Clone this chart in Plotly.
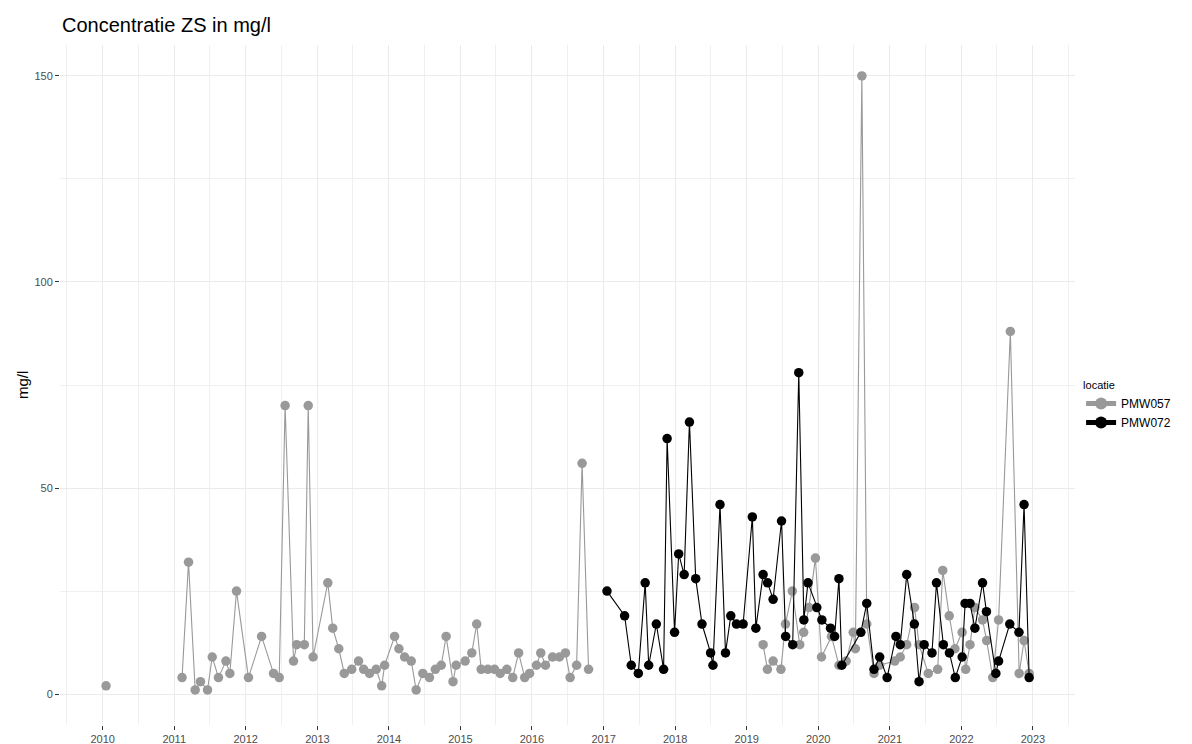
import plotly.graph_objects as go

# PMW057 (grey); None marks a gap in the measurement series (no connecting line)
pmw057_dates = [
    "2010-01-18", "2010-07-01", "2011-02-10", "2011-03-15", "2011-04-18", "2011-05-15", "2011-06-20",
    "2011-07-14", "2011-08-15", "2011-09-22", "2011-10-12", "2011-11-15", "2012-01-15",
    "2012-03-22", "2012-05-22", "2012-06-20", "2012-07-20", "2012-09-01", "2012-09-17",
    "2012-10-26", "2012-11-15", "2012-12-10", "2013-02-23", "2013-03-20", "2013-04-20",
    "2013-05-18", "2013-06-25", "2013-07-30", "2013-08-25", "2013-09-24", "2013-10-28",
    "2013-11-25", "2013-12-10", "2014-01-30", "2014-02-21", "2014-03-22", "2014-04-25",
    "2014-05-20", "2014-06-23", "2014-07-27", "2014-08-26", "2014-09-25", "2014-10-20",
    "2014-11-24", "2014-12-10", "2015-01-25", "2015-02-28", "2015-03-25", "2015-04-17",
    "2015-05-21", "2015-06-24", "2015-07-23", "2015-08-26", "2015-09-25", "2015-10-25",
    "2015-11-25", "2015-12-20", "2016-01-24", "2016-02-15", "2016-03-10", "2016-04-15",
    "2016-05-20", "2016-06-20", "2016-07-14", "2016-08-16", "2016-09-13", "2016-10-16",
    "2018-01-01",
    "2019-03-26", "2019-04-17", "2019-05-16", "2019-06-25", "2019-07-18", "2019-08-22",
    "2019-09-29", "2019-10-19", "2019-11-15", "2019-12-18", "2020-01-18", "2020-03-09",
    "2020-04-16", "2020-05-23", "2020-06-28", "2020-07-09", "2020-08-11", "2020-09-05",
    "2020-10-12", "2020-11-10", "2021-01-26", "2021-02-23", "2021-03-28", "2021-05-07",
    "2021-05-30", "2021-07-16", "2021-09-02", "2021-09-28", "2021-10-31", "2021-11-29",
    "2022-01-05", "2022-01-23", "2022-02-14", "2022-03-11", "2022-04-19", "2022-05-10",
    "2022-06-10", "2022-07-10", "2022-09-08", "2022-10-23", "2022-11-17", "2022-12-13",
]
pmw057_values = [
    2, None, 4, 32, 1, 3, 1,
    9, 4, 8, 5, 25, 4,
    14, 5, 4, 70, 8, 12,
    12, 70, 9, 27, 16, 11,
    5, 6, 8, 6, 5, 6,
    2, 7, 14, 11, 9, 8,
    1, 5, 4, 6, 7, 14,
    3, 7, 8, 10, 17, 6,
    6, 6, 5, 6, 4, 10,
    4, 5, 7, 10, 7, 9,
    9, 10, 4, 7, 56, 6,
    None,
    12, 6, 8, 6, 17, 25,
    12, 15, 21, 33, 9, 14,
    7, 8, 15, 11, 150, 17,
    5, 7, 8, 9, 12, 21,
    12, 5, 6, 30, 19, 11,
    15, 6, 12, 21, 18, 13,
    4, 18, 88, 5, 13, 5,
]

# PMW072 (black)
pmw072_dates = [
    "2017-01-18", "2017-04-18", "2017-05-22", "2017-06-27", "2017-08-01", "2017-08-19",
    "2017-09-27", "2017-11-03", "2017-11-21", "2017-12-29", "2018-01-19", "2018-02-16",
    "2018-03-15", "2018-04-16", "2018-05-18", "2018-07-01", "2018-07-13", "2018-08-18",
    "2018-09-15", "2018-10-12", "2018-11-10", "2018-12-14", "2019-01-30", "2019-02-17",
    "2019-03-26", "2019-04-18", "2019-05-16", "2019-06-28", "2019-07-19", "2019-08-24",
    "2019-09-24", "2019-10-20", "2019-11-10", "2019-12-25", "2020-01-20", "2020-03-04",
    "2020-03-25", "2020-04-16", "2020-05-01", "2020-08-06", "2020-09-05", "2020-10-12",
    "2020-11-10", "2020-12-18", "2021-02-01", "2021-02-23", "2021-03-28", "2021-05-06",
    "2021-05-30", "2021-06-25", "2021-08-04", "2021-08-27", "2021-10-01", "2021-11-01",
    "2021-12-01", "2022-01-05", "2022-01-20", "2022-02-14", "2022-03-11", "2022-04-19",
    "2022-05-09", "2022-06-26", "2022-07-10", "2022-09-05", "2022-10-22", "2022-11-17",
    "2022-12-13",
]
pmw072_values = [
    25, 19, 7, 5, 27, 7,
    17, 6, 62, 15, 34, 29,
    66, 28, 17, 10, 7, 46,
    10, 19, 17, 17, 43, 16,
    29, 27, 23, 42, 14, 12,
    78, 18, 27, 21, 18, 16,
    14, 28, 7, 15, 22, 6,
    9, 4, 14, 12, 29, 17,
    3, 12, 10, 27, 12, 10,
    4, 9, 22, 22, 16, 27,
    20, 5, 8, 17, 15, 46,
    4,
]

year_ticks = [f"{y}-01-01" for y in range(2010, 2024)]
y_ticks = [0, 50, 100, 150]

FONT = "Liberation Sans, Arial, sans-serif"
GREY = "#999999"
BLACK = "#000000"

fig = go.Figure()
fig.add_trace(go.Scatter(
    x=pmw057_dates, y=pmw057_values, name="PMW057", mode="lines+markers",
    connectgaps=False,
    line=dict(color=GREY, width=1.1),
    marker=dict(color=GREY, size=9.5),
))
fig.add_trace(go.Scatter(
    x=pmw072_dates, y=pmw072_values, name="PMW072", mode="lines+markers",
    line=dict(color=BLACK, width=1.1),
    marker=dict(color=BLACK, size=9.5),
))

fig.update_layout(
    width=1192, height=744,
    margin=dict(l=60, r=117, t=45, b=19),
    paper_bgcolor="white", plot_bgcolor="white",
    font=dict(family=FONT, color="#000000"),
    title=dict(text="Concentratie ZS in mg/l", font=dict(size=20, color="#000000", family=FONT),
               x=62 / 1192, xref="container", xanchor="left",
               y=1 - 25 / 744, yref="container", yanchor="middle"),
    showlegend=True,
    legend=dict(
        title=dict(text="locatie", font=dict(size=11, color="#000000")),
        font=dict(size=12, color="#000000"),
        x=1.006, xanchor="left", y=0.515, yanchor="top",
        bgcolor="rgba(0,0,0,0)", tracegroupgap=0, itemsizing="constant",
    ),
    xaxis=dict(
        type="date", range=["2009-05-28", "2023-08-04"],
        tickvals=year_ticks, tickformat="%Y",
        showgrid=True, gridcolor="#EBEBEB", gridwidth=1.1,
        minor=dict(dtick="M6", tick0="2009-07-01", showgrid=True, gridcolor="#F0F0F0", gridwidth=0.9),
        zeroline=False, showline=False,
        ticks="outside", ticklen=4, tickcolor="#333333", tickwidth=1,
        tickfont=dict(size=11, color="#4D4D4D"),
        automargin=False,
    ),
    yaxis=dict(
        range=[-7.5, 157.5], tickvals=y_ticks,
        showgrid=True, gridcolor="#EBEBEB", gridwidth=1.1,
        minor=dict(tickvals=[25, 75, 125], showgrid=True, gridcolor="#F0F0F0", gridwidth=0.9),
        zeroline=False, showline=False,
        ticks="outside", ticklen=4, tickcolor="#333333", tickwidth=1,
        tickfont=dict(size=11, color="#4D4D4D"),
        automargin=False,
    ),
    annotations=[dict(
        text="mg/l", textangle=-90, xref="paper", yref="paper",
        x=(22 - 60) / 1015, y=0.5, xanchor="center", yanchor="middle",
        showarrow=False, font=dict(size=15, color="#000000"),
    )],
)

fig.write_html("out.html")
